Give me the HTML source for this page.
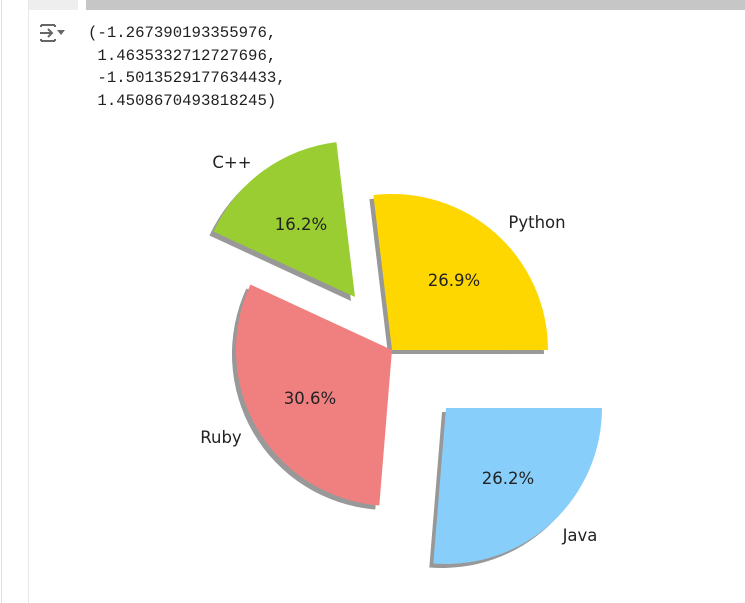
<!DOCTYPE html>
<html><head><meta charset="utf-8"><style>
html,body{margin:0;padding:0;background:#fff;width:745px;height:603px;overflow:hidden;position:relative}
.mono{position:absolute;font-family:"Liberation Mono","DejaVu Sans Mono",monospace;font-size:15.7px;color:#212121;white-space:pre;line-height:22.5px}
</style></head><body>
<div style="position:absolute;left:1px;top:0;width:1px;height:603px;background:#e0e0e0"></div>
<div style="position:absolute;left:28px;top:0;width:1px;height:603px;background:#e8e8e8"></div>
<div style="position:absolute;left:29px;top:0;width:49px;height:10px;background:#eeeeee"></div>
<div style="position:absolute;left:86px;top:0;width:659px;height:10px;background:#c6c6c6"></div>
<svg style="position:absolute;left:38px;top:22px" width="30" height="22" viewBox="0 0 30 22">
<path d="M3 3 H17 M3 19 H17 M3 3 V5 M17 3 V5 M3 19 V17 M17 19 V17" stroke="#666" stroke-width="2" fill="none"/>
<path d="M2 11 H14 M10 7 L14 11 L10 15" stroke="#666" stroke-width="2" fill="none"/>
<path d="M19 8 H27 L23 13 Z" fill="#666"/>
</svg>
<div class="mono" style="left:88px;top:22px">(-1.267390193355976,
 1.4635332712727696,
 -1.5013529177634433,
 1.4508670493818245)</div>
<svg style="position:absolute;left:0;top:0" width="745" height="603">
<g fill="#000" opacity="0.4" transform="translate(-4,4)">
<path d="M392 350 L548 350 A156 156 0 0 0 373.4 195.1 Z"/>
<path d="M355 297 L336.4 142.1 A156 156 0 0 0 213.4 231.5 Z"/>
<path d="M392 350 L250.4 284.5 A156 156 0 0 0 379.3 505.5 Z"/>
<path d="M446 408 L433.3 563.5 A156 156 0 0 0 602 408 Z"/>
</g>
<path d="M392 350 L548 350 A156 156 0 0 0 373.4 195.1 Z" fill="#ffd700"/>
<path d="M355 297 L336.4 142.1 A156 156 0 0 0 213.4 231.5 Z" fill="#9acd32"/>
<path d="M392 350 L250.4 284.5 A156 156 0 0 0 379.3 505.5 Z" fill="#f08080"/>
<path d="M446 408 L433.3 563.5 A156 156 0 0 0 602 408 Z" fill="#87cefa"/>
<g font-family="DejaVu Sans, Liberation Sans, sans-serif" font-size="16.5" fill="#222" text-anchor="middle">
<text x="232" y="168">C++</text>
<text x="301" y="230">16.2%</text>
<text x="537" y="228">Python</text>
<text x="454" y="286">26.9%</text>
<text x="310" y="404">30.6%</text>
<text x="221" y="443">Ruby</text>
<text x="508" y="484">26.2%</text>
<text x="580" y="541">Java</text>
</g>
</svg>
</body></html>
